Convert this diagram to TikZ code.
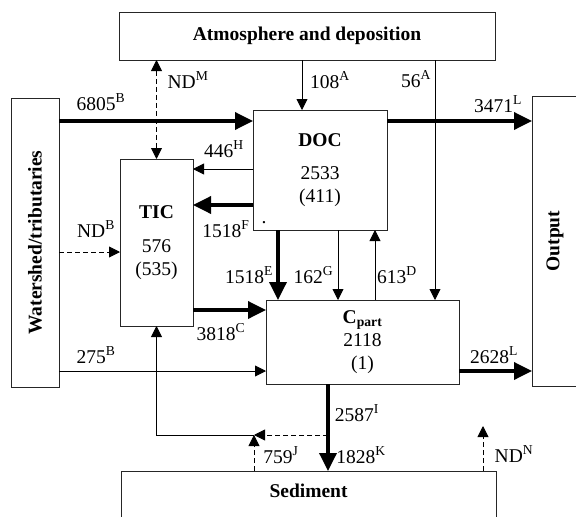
\documentclass[tikz,border=0pt]{standalone}
\usepackage{fontspec}
\setmainfont{Liberation Serif}
\usetikzlibrary{arrows.meta}
\tikzset{
  bx/.style ={draw=black!85,line width=.9pt,outer sep=0pt,inner sep=0pt,
              align=center,font=\fontsize{19.5}{23}\selectfont},
  hdr/.style={font=\fontsize{19.5}{23}\selectfont\bfseries,inner sep=0pt},
  lbl/.style={font=\fontsize{19.5}{23}\selectfont,inner sep=0pt,anchor=base},
  ar/.style ={-{Triangle[length=11pt,width=11pt]},line width=.9pt},
  tk/.style ={-{Triangle[length=18pt,width=17pt]},line width=3.5pt},
  dar/.style={{Triangle[length=11pt,width=11pt]}-{Triangle[length=11pt,width=11pt]},
              line width=.9pt},
  dsh/.style={dash pattern=on 5pt off 3pt},
}
\begin{document}
\begin{tikzpicture}[x=1pt,y=-1pt]
  \useasboundingbox (0,0) rectangle (576,517);
  \node[bx,minimum width=376,minimum height=48] (atm) at (307,36) {\bfseries Atmosphere and deposition};
  \node[bx,minimum width=48,minimum height=289] (shed) at (35,242.5) {};
  \node[hdr,rotate=90] (shedname) at (shed.center) {Watershed/tributaries};
  \node[bx,minimum width=46,minimum height=290] (out) at (555,241) {};
  \node[hdr,rotate=90] (outname) at (out.center) {Output};
  \node[bx,minimum width=134,minimum height=120] (doc) at (320,170) {\textbf{DOC}\\[10pt]2533\\(411)};
  \node[bx,minimum width=73,minimum height=167] (tic) at (156.5,242.5) {\textbf{TIC}\\[11pt]576\\(535)};
  \node[bx,minimum width=193,minimum height=84] (cpart) at (362.5,342) {\textbf{C\textsubscript{part}}\\2118\\(1)};
  \node[bx,minimum width=375,minimum height=90,anchor=north] (sed) at (308.5,471) {};
  \node[hdr,anchor=base] (sedname) at (308.5,497) {Sediment};
  \node[lbl] (docdot) at (264,223) {.};

  \coordinate (r1) at (0,121);
  \coordinate (r2) at (0,169);
  \coordinate (r3) at (0,205);
  \coordinate (r4) at (0,252);
  \coordinate (r5) at (0,310);
  \coordinate (r6) at (0,371);
  \coordinate (r7) at (0,435);
  \coordinate (c2) at (302,0);
  \coordinate (c3) at (278,0);
  \coordinate (c4) at (338,0);
  \coordinate (c5) at (375,0);
  \coordinate (c6) at (435,0);
  \coordinate (c7) at (328,0);
  \coordinate (c8) at (254,0);
  \coordinate (ndn) at (483,426);

  \draw[dar,dsh] (tic.north |- atm.south) -- (tic.north);
  \draw[ar] (c2 |- atm.south) -- (c2 |- doc.north);
  \draw[ar] (c6 |- atm.south) -- (c6 |- cpart.north);
  \draw[tk] (shed.east |- r1) -- (doc.west |- r1);
  \draw[tk] (doc.east |- r1) -- (out.west |- r1);
  \draw[ar] (doc.west |- r2) -- (tic.east |- r2);
  \draw[tk] (doc.west |- r3) -- (tic.east |- r3);
  \draw[ar,dsh] (shed.east |- r4) -- (tic.west |- r4);
  \draw[tk] (c3 |- doc.south) -- (c3 |- cpart.north);
  \draw[ar] (c4 |- doc.south) -- (c4 |- cpart.north);
  \draw[ar] (c5 |- cpart.north) -- (c5 |- doc.south);
  \draw[tk] (tic.east |- r5) -- (cpart.west |- r5);
  \draw[ar] (shed.east |- r6) -- (cpart.west |- r6);
  \draw[tk] (cpart.east |- r6) -- (out.west |- r6);
  \draw[tk] (c7 |- cpart.south) -- (c7 |- sed.north);
  \draw[ar,dsh] (c7 |- r7) -- (c8 |- r7);
  \draw[ar,dsh] (c8 |- sed.north) -- (c8 |- r7);
  \draw[ar] (c8 |- r7) -- (tic.south |- r7) -- (tic.south);
  \draw[ar,dsh] (ndn |- sed.north) -- (ndn);

  \node[lbl] (l6805) at (101,110) {6805\textsuperscript{B}};
  \node[lbl] (lndm) at (188,88) {ND\textsuperscript{M}};
  \node[lbl] (l108) at (330,88) {108\textsuperscript{A}};
  \node[lbl] (l56) at (416,87) {56\textsuperscript{A}};
  \node[lbl] (l3471) at (498,112) {3471\textsuperscript{L}};
  \node[lbl] (l446) at (224,157) {446\textsuperscript{H}};
  \node[lbl] (l1518f) at (226,237) {1518\textsuperscript{F}};
  \node[lbl] (lndb) at (96,237) {ND\textsuperscript{B}};
  \node[lbl] (l1518e) at (249,283) {1518\textsuperscript{E}};
  \node[lbl] (l162) at (313.5,283) {162\textsuperscript{G}};
  \node[lbl] (l613) at (397,283) {613\textsuperscript{D}};
  \node[lbl] (l3818) at (221,340) {3818\textsuperscript{C}};
  \node[lbl] (l275) at (96,363) {275\textsuperscript{B}};
  \node[lbl] (l2628) at (494,363) {2628\textsuperscript{L}};
  \node[lbl] (l2587) at (357,421) {2587\textsuperscript{I}};
  \node[lbl] (l759) at (281,463) {759\textsuperscript{J}};
  \node[lbl] (l1828) at (361,463) {1828\textsuperscript{K}};
  \node[lbl] (lndn) at (514,462) {ND\textsuperscript{N}};
\end{tikzpicture}
\end{document}
